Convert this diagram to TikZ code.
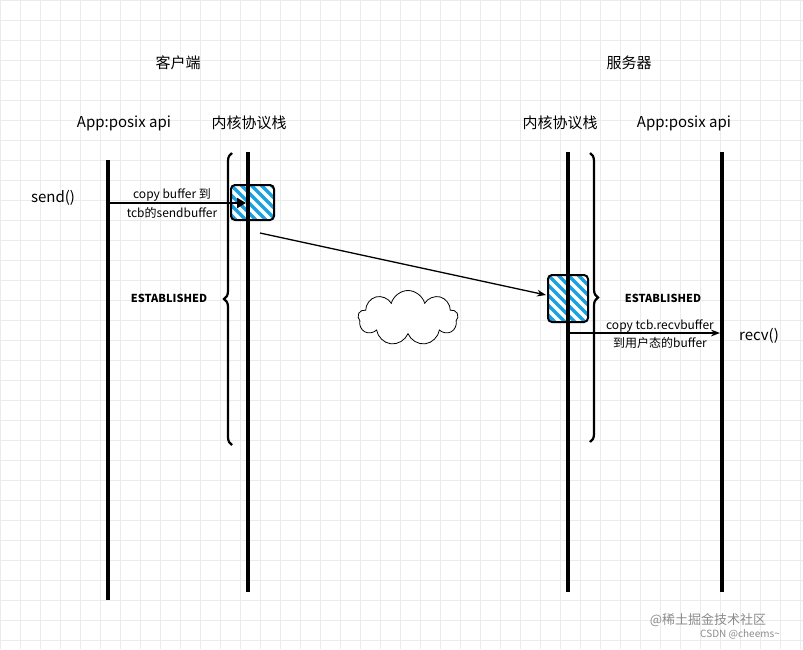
\documentclass[tikz,border=0pt]{standalone}
\usepackage{fontspec}
\setmainfont{Noto Sans CJK SC}
\usetikzlibrary{shapes.symbols,decorations.pathreplacing,arrows.meta}
\begin{document}
\begin{tikzpicture}[x=1pt,y=-1pt,
  life/.style={line width=3.5pt},
  t/.style={font=\fontsize{15}{17}\selectfont},
  s/.style={font=\fontsize{12}{14}\selectfont},
  b/.style={font=\bfseries\fontsize{11}{13}\selectfont},
  br/.style={decorate,decoration={brace,amplitude=8pt},line width=2.2pt}]
\fill[white] (0,0) rectangle (803,649);
\useasboundingbox (0,0) rectangle (803,649);
\foreach \g in {0,20,...,800} \draw[black!8,line width=0.6pt] (\g,0) -- (\g,649);
\foreach \g in {0,20,...,640} \draw[black!8,line width=0.6pt] (0,\g) -- (803,\g);
\node[t] (c) at (178,63) {客户端};
\node[t] (s) at (629,63) {服务器};
\node[t] (a1) at (124,123) {App:posix api};
\node[t] (k1) at (249,123) {内核协议栈};
\node[t] (k2) at (560,123) {内核协议栈};
\node[t] (a2) at (684,123) {App:posix api};
\coordinate (l1t) at (108,160); \coordinate (l1b) at (108,600);
\coordinate (l2t) at (248,152); \coordinate (l2b) at (248,592);
\coordinate (l3t) at (568,152); \coordinate (l3b) at (568,592);
\coordinate (l4t) at (722,152); \coordinate (l4b) at (722,592);
\draw[life] (l1t)--(l1b); \draw[life] (l2t)--(l2b);
\draw[life] (l3t)--(l3b); \draw[life] (l4t)--(l4b);
\draw[br] (232,445) -- (232,153);
\draw[br] (590,153) -- (590,442);
\node[b] (e1) at (169,298) {ESTABLISHED};
\node[b] (e2) at (663,298) {ESTABLISHED};
\foreach \bx/\by/\bw/\bh [count=\i] in {231/185/43/35, 548/275/40/47}{
  \begin{scope}
    \clip[rounded corners=4pt] (\bx,\by) rectangle ++(\bw,\bh);
    \fill[white] (\bx,\by) rectangle ++(\bw,\bh);
    \foreach \k in {-60,-50,...,60}
      \draw[line width=3.5pt,color={rgb,255:red,27;green,161;blue,226}] (\bx+\k,\by) -- ++(60,60);
  \end{scope}
  \draw[line width=2pt,rounded corners=4pt] (\bx,\by) rectangle ++(\bw,\bh);
}
\draw[life] (248,185)--(248,220);
\draw[life] (568,275)--(568,322);
\node[t] (snd) at (53,198) {send()};
\coordinate (s1) at (108,203); \coordinate (s2) at (246,203);
\draw[line width=2.5pt,-{Triangle[length=9pt,width=10pt]}] (s1)--(s2);
\node[s] (cb1) at (172,195) {copy buffer 到};
\node[s] (cb2) at (172,213) {tcb的sendbuffer};
\coordinate (m1) at (260,233); \coordinate (m2) at (546,295);
\draw[line width=1.3pt,-{Stealth[length=9pt]}] (m1)--(m2);
\node[cloud,draw,cloud puffs=9,aspect=1.9,minimum width=100,minimum height=55,line width=0.8pt,fill=white] (cl) at (408,318) {};
\coordinate (r1) at (568,333); \coordinate (r2) at (720,333);
\draw[line width=1.6pt,-{Stealth[length=9pt]}] (r1)--(r2);
\node[s,inner sep=0.5pt] (cr1) at (660,326) {copy tcb.recvbuffer};
\node[s] (cr2) at (660,343) {到用户态的buffer};
\node[t] (rcv) at (759,336) {recv()};
\node[font=\fontsize{13}{15}\selectfont,text=black!45] (w1) at (708,620) {@稀土掘金技术社区};
\node[font=\fontsize{10}{12}\selectfont,text=black!45] (w2) at (740,634) {CSDN @cheems\textasciitilde};
\end{tikzpicture}
\end{document}
